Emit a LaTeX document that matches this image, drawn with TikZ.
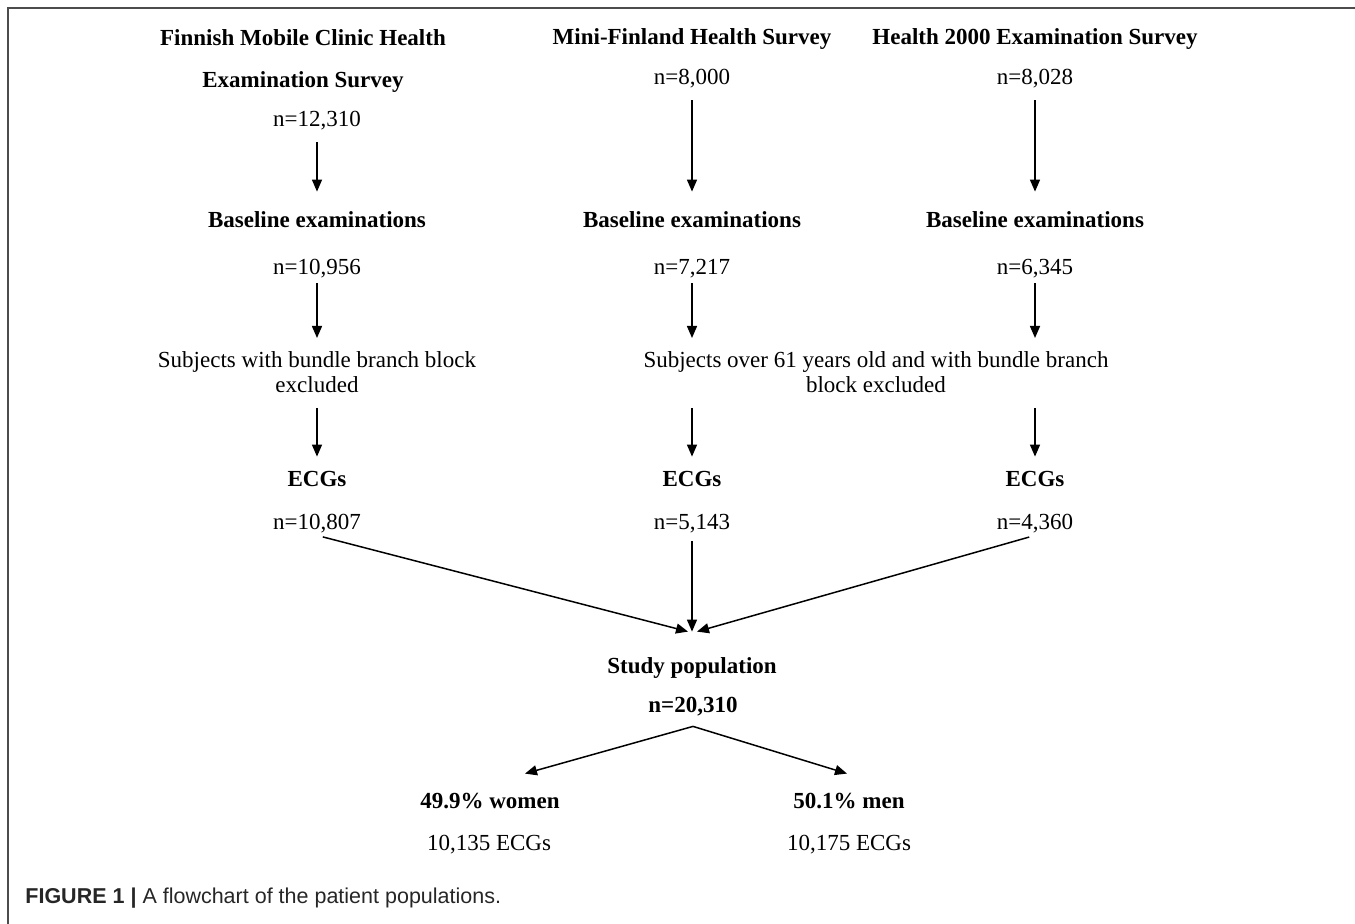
\documentclass[tikz,border=0pt]{standalone}
\usepackage{fontspec}
\setmainfont{Liberation Serif}
\newfontfamily\capfont{Liberation Sans}
\usetikzlibrary{arrows.meta}

\begin{document}
\begin{tikzpicture}[
            x = 0.5pt, y = -0.5pt,
            every node/.style={inner sep=0pt, anchor=base},
            txt/.style={font=\fontsize{11.5}{12.5}\selectfont, text height=8pt, text depth=2.5pt},
            hd/.style={font=\bfseries\fontsize{11.5}{12.5}\selectfont, text height=8pt, text depth=2.5pt},
            title/.style={font=\bfseries\fontsize{11.5}{21}\selectfont, align=center, anchor=north},
            note/.style={font=\fontsize{11.5}{12.5}\selectfont, align=center, anchor=north},
            arr/.style={line width=.75pt, -{Triangle[length=6pt,width=5pt]}, shorten <=5pt, shorten >=10pt},
            ]
        \useasboundingbox (0,0) rectangle (1355,924);
        \draw[line width=1pt, black!70] (8,924) -- (8,8) -- (1355,8);

        % survey titles
        \node[title] (fmc) at (303,29) {Finnish Mobile Clinic Health\\Examination Survey};
        \node[hd] (mfh) at (692,45) {Mini-Finland Health Survey};
        \node[hd] (h2k) at (1035,45) {Health 2000 Examination Survey};
        \node[txt] (nfmc) at (317,127) {n=12,310};
        \node[txt] (nmfh) at (692,85) {n=8,000};
        \node[txt] (nh2k) at (1035,85) {n=8,028};

        % baseline examinations
        \node[hd] (bfmc) at (317,228) {Baseline examinations};
        \node[hd] (bmfh) at (692,228) {Baseline examinations};
        \node[hd] (bh2k) at (1035,228) {Baseline examinations};
        \node[txt] (nbfmc) at (317,275) {n=10,956};
        \node[txt] (nbmfh) at (692,275) {n=7,217};
        \node[txt] (nbh2k) at (1035,275) {n=6,345};

        % exclusions
        \node[note] (xfmc) at (317,351) {Subjects with bundle branch block\\excluded};
        \node[note] (xold) at (876,351) {Subjects over 61 years old and with bundle branch\\block excluded};

        % ECGs
        \node[hd] (efmc) at (317,487) {ECGs};
        \node[hd] (emfh) at (692,487) {ECGs};
        \node[hd] (eh2k) at (1035,487) {ECGs};
        \node[txt] (nefmc) at (317,530) {n=10,807};
        \node[txt] (nemfh) at (692,530) {n=5,143};
        \node[txt] (neh2k) at (1035,530) {n=4,360};

        % study population
        \node[hd] (study) at (692,674) {Study population};
        \node[hd] (total) at (693,712) {n=20,310};
        \node[hd] (women) at (490,808) {49.9\% women};
        \node[hd] (men) at (849,808) {50.1\% men};
        \node[txt] (nwomen) at (489,850) {10,135 ECGs};
        \node[txt] (nmen) at (849,850) {10,175 ECGs};

        \node[anchor=base west, font=\capfont\fontsize{10.75}{12}\selectfont, text=black!85] (cap) at (25,903) {\textbf{FIGURE 1 |} A flowchart of the patient populations.};

        \draw[arr] (nfmc) -- (bfmc);
        \draw[arr] (nmfh) -- (bmfh);
        \draw[arr] (nh2k) -- (bh2k);
        \draw[arr, shorten <=1.5pt, shorten >=6.5pt] (nbfmc) -- (xfmc);
        \draw[arr, shorten <=1.5pt, shorten >=6.5pt] (nbmfh.south) -- (nbmfh.south |- xold.north);
        \draw[arr, shorten <=1.5pt, shorten >=6.5pt] (nbh2k.south) -- (nbh2k.south |- xold.north);
        \draw[arr, shorten <=7.5pt, shorten >=7pt] (xfmc) -- (efmc);
        \draw[arr, shorten <=7.5pt, shorten >=7pt] (emfh.north |- xold.south) -- (emfh.north);
        \draw[arr, shorten <=7.5pt, shorten >=7pt] (eh2k.north |- xold.south) -- (eh2k.north);
        \draw[arr, shorten <=3pt, shorten >=0pt] (nefmc.south) -- ([xshift=-2pt,yshift=13pt]study.north);
        \draw[arr, shorten <=3pt, shorten >=0pt] (nemfh.south) -- ([yshift=13pt]study.north);
        \draw[arr, shorten <=3pt, shorten >=0pt] (neh2k.south) -- ([xshift=2.5pt,yshift=13pt]study.north);
        \draw[arr, shorten <=0pt, shorten >=0pt] ([yshift=-4.5pt]total.south) -- ([xshift=17.5pt,yshift=9pt]women.north);
        \draw[arr, shorten <=0pt, shorten >=0pt] ([yshift=-4.5pt]total.south) -- ([xshift=-1pt,yshift=9pt]men.north);
    \end{tikzpicture}
\end{document}
